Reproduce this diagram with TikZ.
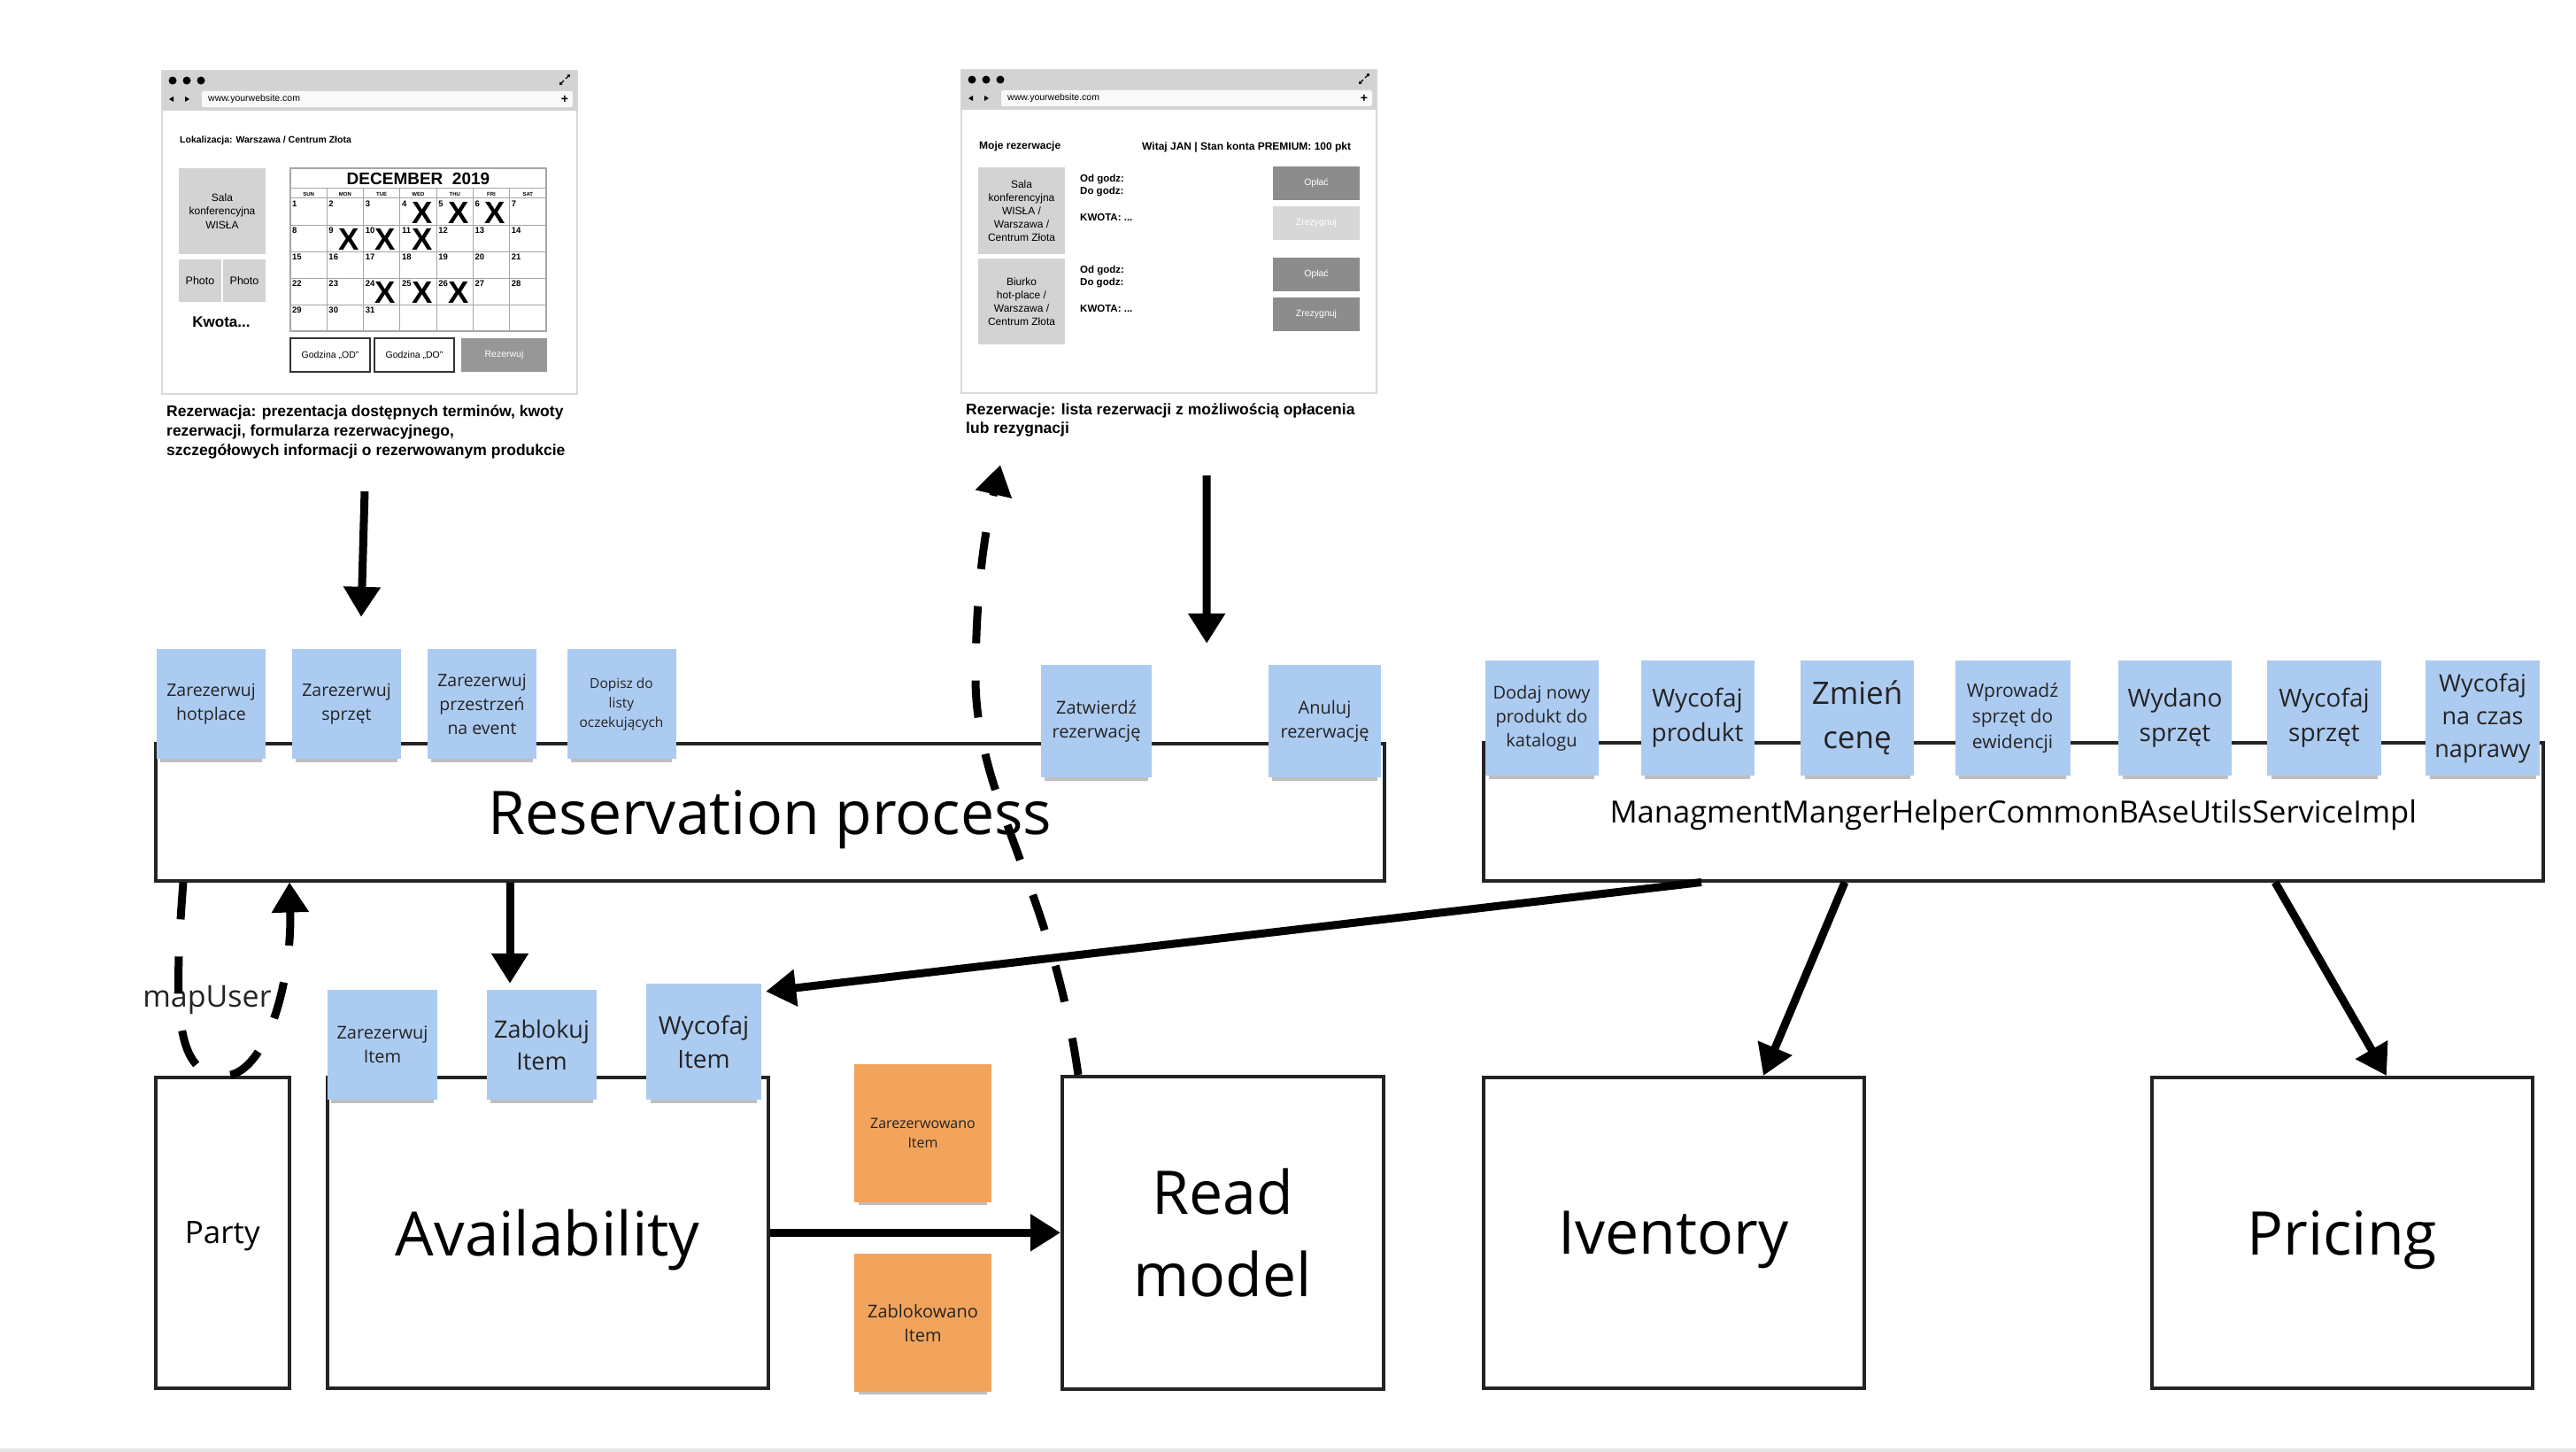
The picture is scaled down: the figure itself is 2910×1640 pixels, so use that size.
\documentclass[tikz,border=0pt]{standalone}
\usepackage{fontspec}
\setmainfont{Open Sans}
\newfontfamily\mockfont{Liberation Sans}
\usepackage{tikz}
\usetikzlibrary{arrows.meta, shadows}

\definecolor{stickyblue}{RGB}{172,203,241}
\definecolor{stickyorange}{RGB}{242,164,92}
\definecolor{mockgray}{RGB}{211,211,211}
\definecolor{btngray}{RGB}{140,140,140}
\definecolor{inkgray}{RGB}{36,36,36}

\newcommand{\fsz}[2]{\fontsize{#1}{#2}\selectfont}

\begin{document}
\begin{tikzpicture}[x=1pt, y=-1pt,
    box/.style={draw=inkgray, line width=3.5pt, inner sep=0pt, anchor=north west},
    sticky/.style={fill=stickyblue, text=inkgray, align=center, inner sep=0pt,
      drop shadow={shadow xshift=0pt, shadow yshift=-9pt, shadow scale=0.93, fill=black, opacity=0.25}},
    conn/.style={line width=9pt, -{Triangle[length=34pt, width=40pt]}},
    dconn/.style={conn, dash pattern=on 42pt off 42pt},
    mock/.style={font=\mockfont, text=black, align=center, inner sep=0pt},
    btn/.style={mock, minimum width=98pt, minimum height=38pt, text=white, font=\mockfont\fsz{10.5}{12}}]

    \fill[white] (0,0) rectangle (2910,1640);
    \useasboundingbox (0,0) rectangle (2910,1640);
    \fill[gray!20] (0,1636) rectangle (2910,1640);

    % browser windows
    \foreach \ox/\oy in {183/80, 1086/79} {
      \begin{scope}[shift={(\ox,\oy)}]
        \draw[gray!30, line width=1.2pt, fill=white] (0,0) rectangle (469,365);
        \fill[mockgray] (0,0) rectangle (469,45);
        \foreach \i in {0,1,2}
          \fill (12+16*\i,11) circle [radius=4.5];
        \fill[white!95!gray, rounded corners=2pt] (45,23) rectangle (464,41);
        \fill (8,32) -- (13,29) -- (13,35) -- cycle;
        \fill (31,32) -- (26,29) -- (26,35) -- cycle;
        \node[mock, font=\mockfont\fsz{10.5}{12}, anchor=west] (url\ox) at (52,32) {www.yourwebsite.com};
        \node[mock, font=\mockfont\bfseries\fsz{14}{14}] (plus\ox) at (455,32) {+};
        \draw[line width=1.3pt, -{Triangle[length=3pt,width=4pt]}] (456,9) -- (461,4);
        \draw[line width=1.3pt, -{Triangle[length=3pt,width=4pt]}] (454,11) -- (449,16);
      \end{scope}
    }

    % reservation page
    \begin{scope}[shift={(183,80)}]
      \node[mock, font=\mockfont\bfseries\fsz{10.5}{12}, anchor=west] (lok) at (20,79) {Lokalizacja: Warszawa / Centrum Złota};
      \node[mock, fill=mockgray, minimum width=98pt, minimum height=97pt, font=\mockfont\fsz{12}{15.5}] (sala) at (68,158.5) {Sala\\konferencyjna\\WISŁA};
      \node[mock, fill=mockgray, minimum width=48pt, minimum height=48pt, font=\mockfont\fsz{12.5}{14}] (photoA) at (43,237) {Photo};
      \node[mock, fill=mockgray, minimum width=48pt, minimum height=48pt, font=\mockfont\fsz{12.5}{14}] (photoB) at (93,237) {Photo};
      \node[mock, font=\mockfont\bfseries\fsz{17}{20}] (kwota) at (67,284) {Kwota...};
      % calendar
      \draw[gray!70, line width=1.2pt] (145,110) rectangle (434,294);
      \draw[gray!70, line width=1pt] (145,133) -- (434,133);
      \foreach \yy in {144,174,204,234,264}
        \draw[gray!70, line width=1pt] (145,\yy) -- (434,\yy);
      \foreach \i in {1,...,6}
        \draw[gray!70, line width=1pt] (145+\i*41.29,133) -- (145+\i*41.29,294);
      \node[mock, font=\mockfont\bfseries\fsz{19}{20}] (month) at (289.5,122) {DECEMBER\ \ 2019};
      \foreach \dn [count=\i from 0] in {SUN,MON,TUE,WED,THU,FRI,SAT}
        \node[mock, font=\mockfont\bfseries\fsz{6}{7}] (dn\i) at (165.6+\i*41.29,139) {\dn};
      \foreach \d in {1,...,31} {
        \pgfmathtruncatemacro\row{(\d-1)/7}
        \pgfmathtruncatemacro\col{\d-1-7*\row}
        \node[mock, font=\mockfont\bfseries\fsz{9.5}{10}, anchor=north west] (d\d) at (147+\col*41.29,147+\row*30) {\d};
      }
      \foreach \d in {4,5,6,9,10,11,24,25,26} {
        \pgfmathtruncatemacro\row{(\d-1)/7}
        \pgfmathtruncatemacro\col{\d-1-7*\row}
        \node[mock, font=\mockfont\bfseries\fsz{35}{35}] (x\d) at (170+\col*41.29,160+\row*30) {X};
      }
      \node[mock, draw=black!80, line width=1.2pt, minimum width=90pt, minimum height=38pt, font=\mockfont\fsz{10.5}{12}] (godzod) at (190,321) {Godzina „OD”};
      \node[mock, draw=black!80, line width=1.2pt, minimum width=90pt, minimum height=38pt, font=\mockfont\fsz{10.5}{12}] (godzdo) at (285,321) {Godzina „DO”};
      \node[btn, fill=btngray!90, minimum width=97pt] (rezbtn) at (386.5,321) {Rezerwuj};
    \end{scope}
    \node[mock, align=left, anchor=north west, font=\mockfont\bfseries\fsz{17.5}{22}] (capA) at (188,457)
      {Rezerwacja: prezentacja dostępnych terminów, kwoty\\rezerwacji, formularza rezerwacyjnego,\\szczegółowych informacji o rezerwowanym produkcie};

    % my reservations page
    \begin{scope}[shift={(1086,79)}]
      \node[mock, font=\mockfont\bfseries\fsz{12}{14}, anchor=west] (moje) at (20,86) {Moje rezerwacje};
      \node[mock, font=\mockfont\bfseries\fsz{12}{14}, anchor=west] (witaj) at (204,87) {Witaj JAN | Stan konta PREMIUM: 100 pkt};
      \node[mock, fill=mockgray, minimum width=98pt, minimum height=98pt, font=\mockfont\fsz{12}{15}] (salaB) at (68,159) {Sala\\konferencyjna\\WISŁA /\\Warszawa /\\Centrum Złota};
      \node[mock, fill=mockgray, minimum width=98pt, minimum height=97pt, font=\mockfont\fsz{12}{15}] (biurko) at (68,261.5) {Biurko\\hot-place /\\Warszawa /\\Centrum Złota};
      \foreach \yy/\k in {0/1, 103/2} {
        \node[mock, font=\mockfont\bfseries\fsz{11.5}{14}, anchor=west] (odgodz\k) at (134,124+\yy) {Od godz:};
        \node[mock, font=\mockfont\bfseries\fsz{11.5}{14}, anchor=west] (dogodz\k) at (134,138+\yy) {Do godz:};
        \node[mock, font=\mockfont\bfseries\fsz{11.5}{14}, anchor=west] (kwotaB\k) at (134,167+\yy) {KWOTA: ...};
      }
      \node[btn, fill=btngray] (oplacA) at (401,128) {Opłać};
      \node[btn, fill=mockgray!90] (zrezA) at (401,173) {Zrezygnuj};
      \node[btn, fill=btngray] (oplacB) at (401,230.5) {Opłać};
      \node[btn, fill=btngray] (zrezB) at (401,276) {Zrezygnuj};
    \end{scope}
    \node[mock, align=left, anchor=north west, font=\mockfont\bfseries\fsz{17.5}{21.5}] (capB) at (1091,455)
      {Rezerwacje: lista rezerwacji z możliwością opłacenia\\lub rezygnacji};

    % bounded contexts
    \node[box, minimum width=1388pt, minimum height=155pt, text depth=0pt, font=\fsz{68}{80}] (resproc) at (174,838) {Reservation process};
    \node[box, minimum width=1197pt, minimum height=156pt, text depth=0pt, font=\fsz{34.5}{40}] (mgmt) at (1674,837) {ManagmentMangerHelperCommonBAseUtilsServiceImpl};
    \node[box, minimum width=151pt, minimum height=351pt, text depth=0pt, font=\fsz{35}{40}] (party) at (174,1215) {Party};
    \node[box, minimum width=498pt, minimum height=351pt, text depth=0pt, font=\fsz{69}{80}] (avail) at (368,1215) {Availability};
    \node[box, minimum width=363pt, minimum height=353pt, align=center, font=\fsz{68}{93}] (readmodel) at (1198,1214) {Read\\model};
    \node[box, minimum width=430pt, minimum height=351pt, text depth=0pt, font=\fsz{68}{80}] (iventory) at (1674,1215) {Iventory};
    \node[box, minimum width=430pt, minimum height=351pt, text depth=0pt, font=\fsz{68}{80}] (pricing) at (2429,1215) {Pricing};

    % commands
    \node[sticky, minimum width=123pt, minimum height=124pt, font=\fsz{19.5}{27}] (hotplace) at (238.5,795) {Zarezerwuj\\hotplace};
    \node[sticky, minimum width=123pt, minimum height=124pt, font=\fsz{19.5}{27}] (sprzet) at (391.5,795) {Zarezerwuj\\sprzęt};
    \node[sticky, minimum width=123pt, minimum height=124pt, font=\fsz{19.5}{27}] (event) at (544.5,795) {Zarezerwuj\\przestrzeń\\na event};
    \node[sticky, minimum width=123pt, minimum height=124pt, font=\fsz{15.5}{22}] (waitlist) at (702,795) {Dopisz do\\listy\\oczekujących};
    \node[sticky, minimum width=125pt, minimum height=127pt, font=\fsz{20}{27}] (zatw) at (1238.5,814.5) {Zatwierdź\\rezerwację};
    \node[sticky, minimum width=127pt, minimum height=127pt, font=\fsz{20}{27}] (anuluj) at (1496.5,814.5) {Anuluj\\rezerwację};

    \node[sticky, minimum width=128pt, minimum height=130pt, font=\fsz{20}{27}] (addprod) at (1741.5,811) {Dodaj nowy\\produkt do\\katalogu};
    \node[sticky, minimum width=128pt, minimum height=130pt, font=\fsz{28}{39}] (wycprod) at (1917.5,811) {Wycofaj\\produkt};
    \node[sticky, minimum width=128pt, minimum height=130pt, font=\fsz{35}{50}] (cena) at (2098,811) {Zmień\\cenę};
    \node[sticky, minimum width=130pt, minimum height=130pt, font=\fsz{21}{29}] (ewid) at (2273.5,811) {Wprowadź\\sprzęt do\\ewidencji};
    \node[sticky, minimum width=128pt, minimum height=130pt, font=\fsz{28}{39}] (wydano) at (2457,811) {Wydano\\sprzęt};
    \node[sticky, minimum width=129pt, minimum height=130pt, font=\fsz{28}{39}] (wycsprz) at (2625.5,811) {Wycofaj\\sprzęt};
    \node[sticky, minimum width=129pt, minimum height=130pt, font=\fsz{27}{37}] (naprawa) at (2804.5,811) {Wycofaj\\na czas\\naprawy};

    \node[sticky, minimum width=124pt, minimum height=124pt, font=\fsz{20}{27}] (rezitem) at (432,1180) {Zarezerwuj\\Item};
    \node[sticky, minimum width=124pt, minimum height=124pt, font=\fsz{27}{36}] (blokitem) at (612,1180) {Zablokuj\\Item};
    \node[sticky, minimum width=130pt, minimum height=131pt, font=\fsz{28}{38}] (wycitem) at (795,1176.5) {Wycofaj\\Item};

    % events
    \node[sticky, fill=stickyorange, minimum width=155pt, minimum height=156pt, font=\fsz{16}{22}] (rezevt) at (1042.5,1280) {Zarezerwowano\\Item};
    \node[sticky, fill=stickyorange, minimum width=155pt, minimum height=156pt, font=\fsz{20}{27}] (blokevt) at (1042.5,1494) {Zablokowano\\Item};

    \node[font=\fsz{34}{40}, text=inkgray, inner sep=0pt] (mapuser) at (234,1129) {mapUser};

    % flows
    \coordinate (calout) at (412,555);
    \coordinate (listout) at (1363,537);
    \coordinate (listin) at (1130,525);

    \draw[conn] (calout) -- ([xshift=16.5pt, yshift=36pt]sprzet.north);
    \draw[conn] (listout) -- ([xshift=62pt, yshift=24pt]zatw.north east);
    \draw[dconn] ([xshift=20pt]readmodel.north west) .. controls (1188,1000) and (1100,900) .. (1102,760)
      .. controls (1103,650) and (1115,590) .. (listin);
    \draw[conn] ([xshift=402pt]resproc.south west) -- ([xshift=-36pt, yshift=7pt]blokitem.north);
    \draw[dconn] ([xshift=33pt]resproc.south west) .. controls (195,1150) and (200,1215) .. ([xshift=79pt]party.north west)
      .. controls (300,1215) and (330,1110) .. ([xshift=153pt]resproc.south west);
    \draw[conn] ([xshift=248pt]mgmt.south west) -- ([xshift=5pt, yshift=-9pt]wycitem.north east);
    \draw[conn] (avail.east) -- (readmodel.west);
    \draw[conn] ([xshift=410pt]mgmt.south west) -- ([xshift=318pt]iventory.north west);
    \draw[conn] ([xshift=896pt]mgmt.south west) -- ([xshift=267pt]pricing.north west);
\end{tikzpicture}
\end{document}
